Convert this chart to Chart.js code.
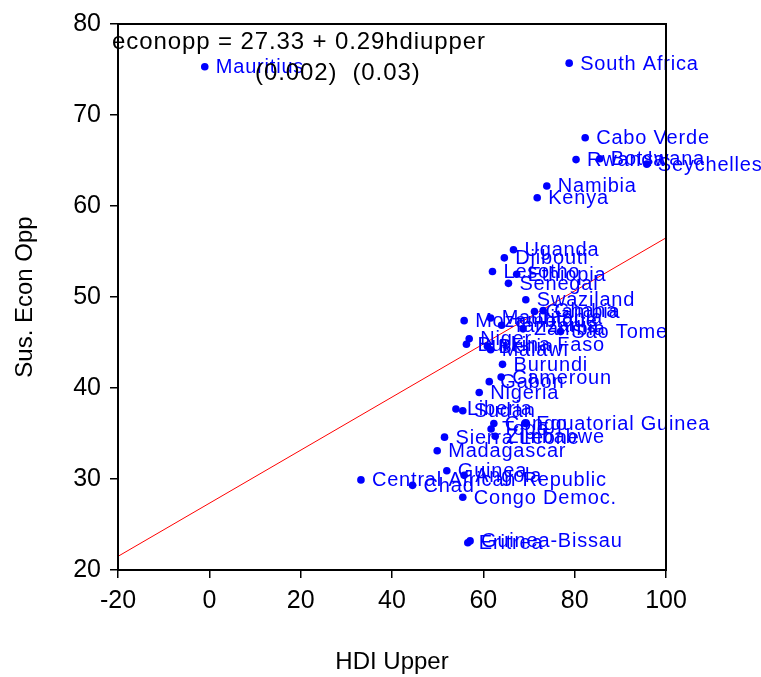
<!DOCTYPE html>
<html lang="en">
<head>
    <meta charset="UTF-8">
    <title>Sus. Econ Opp vs HDI Upper</title>
    <script src="https://cdn.jsdelivr.net/npm/chart.js@4.4.1/dist/chart.umd.min.js"></script>
    <style>
        html, body { margin: 0; padding: 0; background: #fff; }
        #wrap { width: 761px; height: 677px; }
    </style>
</head>
<body>
    <div id="wrap"><canvas id="grafica"></canvas></div>

    <script>
        // Country names, HDI upper (x) and sustainable economic opportunity (y)
        const paises = [
            "Mauritius", "South Africa", "Cabo Verde", "Rwanda", "Botswana", "Seychelles",
            "Namibia", "Kenya", "Uganda", "Djibouti", "Lesotho", "Ethiopia", "Senegal",
            "Swaziland", "Gambia", "Ghana", "Mozambique", "Mauritania", "Tanzania", "Zambia",
            "Sao Tome", "Niger", "Burkina Faso", "Benin", "Malawi", "Burundi", "Cameroun",
            "Gabon", "Nigeria", "Liberia", "Sudan", "Congo", "Equatorial Guinea", "Togo",
            "Zimbabwe", "Sierra Leone", "Madagascar", "Guinea", "Angola",
            "Central African Republic", "Chad", "Congo Democ.", "Guinea-Bissau", "Eritrea"
        ];
        const hdiUpper = [
            -1.0, 78.8, 82.3, 80.3, 85.5, 95.8,
            73.9, 71.8, 66.6, 64.6, 62.0, 67.3, 65.5,
            69.3, 71.2, 73.1, 55.8, 61.6, 64.0, 68.7,
            76.9, 56.9, 56.3, 60.9, 61.6, 64.2, 63.9,
            61.3, 59.1, 54.0, 55.5, 62.3, 69.2, 61.7,
            62.6, 51.5, 49.9, 52.0, 55.8,
            33.2, 44.5, 55.5, 57.1, 56.6
        ];
        const econOpp = [
            75.3, 75.7, 67.5, 65.1, 65.2, 64.6,
            62.2, 60.9, 55.2, 54.3, 52.8, 52.5, 51.5,
            49.7, 48.4, 48.5, 47.4, 47.7, 46.9, 46.5,
            46.2, 45.4, 44.8, 44.6, 44.2, 42.6, 41.2,
            40.7, 39.5, 37.7, 37.5, 36.1, 36.1, 35.5,
            34.7, 34.6, 33.1, 30.9, 30.4,
            29.9, 29.3, 28.0, 23.2, 23.0
        ];

        // Fitted line, read at the edges of the x range
        const lineaX = [-20, 100];
        const lineaY = [21.5, 56.5];

        const ecuacion = ["econopp = 27.33 + 0.29hdiupper", "(0.002)  (0.03)"];

        const xTicks = [-20, 0, 20, 40, 60, 80, 100];
        const yTicks = [20, 30, 40, 50, 60, 70, 80];

        const fuente = "'Liberation Sans', Arial, sans-serif";
        Chart.defaults.font.family = fuente;
        Chart.defaults.color = "#000";

        // Country labels next to each dot
        const etiquetas = {
            id: "etiquetas",
            afterDatasetsDraw(chart) {
                const ctx = chart.ctx;
                const meta = chart.getDatasetMeta(0);
                ctx.save();
                ctx.font = "20px " + fuente;
                ctx.letterSpacing = "0.8px";
                ctx.fillStyle = "#0000ff";
                ctx.textBaseline = "middle";
                ctx.textAlign = "left";
                meta.data.forEach((p, i) => {
                    ctx.fillText(paises[i], p.x + 11, p.y + 1);
                });
                ctx.restore();
            }
        };

        // Frame and the regression text
        const marco = {
            id: "marco",
            afterDraw(chart) {
                const ctx = chart.ctx;
                const a = chart.chartArea;
                ctx.save();
                ctx.strokeStyle = "#000";
                ctx.lineWidth = 2;
                ctx.strokeRect(a.left, a.top, a.right - a.left, a.bottom - a.top);

                ctx.font = "24px " + fuente;
                ctx.letterSpacing = "0.9px";
                ctx.fillStyle = "#000";
                ctx.textBaseline = "middle";
                ctx.fillText(ecuacion[0], a.left - 6, a.top + 18);
                ctx.fillText(ecuacion[1], a.left + 137, a.top + 49);
                ctx.restore();
            }
        };

        const datos = hdiUpper.map((x, i) => ({ x: x, y: econOpp[i] }));
        const linea = lineaX.map((x, i) => ({ x: x, y: lineaY[i] }));

        new Chart(document.querySelector("#grafica"), {
            type: "scatter",
            data: {
                datasets: [
                    {
                        label: "Países",
                        data: datos,
                        pointRadius: 3.8,
                        pointBackgroundColor: "#0000ff",
                        pointBorderWidth: 0,
                        order: 1
                    },
                    {
                        type: "line",
                        label: "Ajuste",
                        data: linea,
                        borderColor: "#ff0000",
                        borderWidth: 1,
                        pointRadius: 0,
                        fill: false,
                        order: 2
                    }
                ]
            },
            options: {
                responsive: true,
                maintainAspectRatio: false,
                animation: false,
                events: [],
                layout: { padding: { top: 22, right: 95, left: 0, bottom: 0 } },
                plugins: {
                    legend: { display: false },
                    tooltip: { enabled: false }
                },
                scales: {
                    x: {
                        type: "linear",
                        min: -20,
                        max: 100,
                        afterBuildTicks: (s) => { s.ticks = xTicks.map(v => ({ value: v })); },
                        afterFit: (s) => { s.height = 107; },
                        ticks: { font: { size: 25 }, padding: 8, color: "#000" },
                        grid: { drawOnChartArea: false, tickLength: 8, color: "#000", lineWidth: 1.5 },
                        border: { display: false },
                        title: { display: true, text: "HDI Upper", font: { size: 24 }, padding: { top: 0, bottom: 0 } }
                    },
                    y: {
                        type: "linear",
                        min: 20,
                        max: 80,
                        afterBuildTicks: (s) => { s.ticks = yTicks.map(v => ({ value: v })); },
                        afterFit: (s) => { s.width = 118; },
                        ticks: { font: { size: 25 }, padding: 9, color: "#000" },
                        grid: { drawOnChartArea: false, tickLength: 8, color: "#000", lineWidth: 1.5 },
                        border: { display: false },
                        title: { display: true, text: "Sus. Econ Opp", font: { size: 24 }, padding: { top: 11, bottom: 0 } }
                    }
                }
            },
            plugins: [etiquetas, marco]
        });
    </script>
</body>
</html>
